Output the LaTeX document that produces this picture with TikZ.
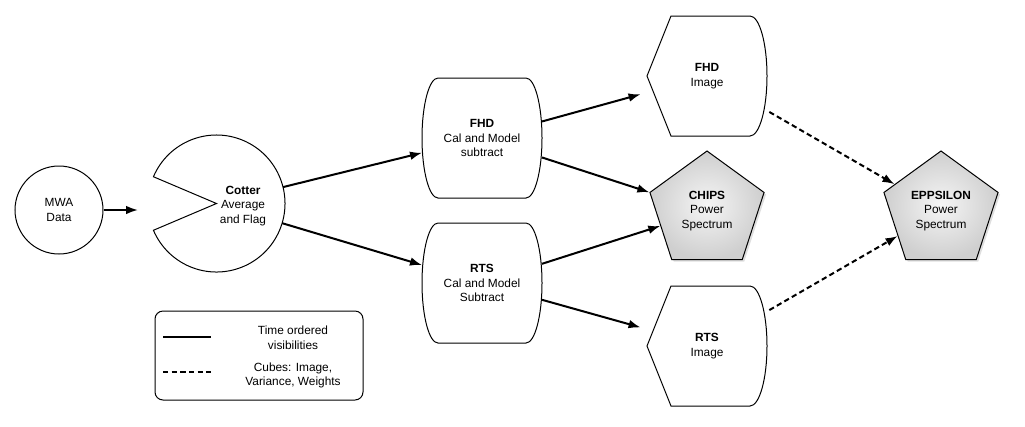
\documentclass[tikz,border=0pt]{standalone}
\usepackage{fontspec}
\setmainfont{Liberation Sans}
\usetikzlibrary{arrows.meta, shapes.geometric, shadows}

\begin{document}
\begin{tikzpicture}[
            x = 0.75pt, y = -0.75pt, % one unit = one pixel of the sketch
            > = {Latex[length=9pt, width=6.5pt]}, % arrow head style
            flow/.style = {->, line width = 1.5pt},
            cube/.style = {->, line width = 1.5pt, dash pattern = on 4pt off 2.5pt},
            every node/.style = {align = center, font = \fontsize{8.9}{10.9}\selectfont}
        ]

        \tikzstyle{outline}=[
            draw = black,
            line width = 0.75pt
        ]
        \tikzstyle{slot}=[
            rectangle,
            minimum width = 90pt,
            minimum height = 90pt,
            inner sep = 0pt,
            outer sep = 0pt
        ]
        \tikzstyle{spectrum}=[
            regular polygon,
            regular polygon sides = 5,
            minimum size = 90pt,
            inner sep = 0pt,
            draw = black,
            line width = 0.75pt,
            inner color = gray!8,
            outer color = gray!38,
            drop shadow = {opacity = 0.25, shadow xshift = 1.5pt, shadow yshift = -1.5pt}
        ]

        \useasboundingbox (0,0) rectangle (1025,426);

        \node[circle, outline, minimum size = 66pt] (mwa) at (59,210) {MWA\\Data};
        \node[circle, minimum size = 102.75pt, outer sep = 0pt] (cot) at (216.5,203.5) {};
        \node (cottext) at (243,206) {\textbf{Cotter}\\Average\\and Flag};

        \node[slot] (fhdcal) at (482,138) {\textbf{FHD}\\Cal and Model\\subtract};
        \node[slot] (rtscal) at (482,283) {\textbf{RTS}\\Cal and Model\\Subtract};
        \node[slot] (fhdimg) at (707,76) {\textbf{FHD}\\Image};
        \node[slot] (rtsimg) at (707,346) {\textbf{RTS}\\Image};
        \node[spectrum] (chips) at (707,211) {\textbf{CHIPS}\\Power\\Spectrum};
        \node[spectrum] (eppsilon) at (941,211) {\textbf{EPPSILON}\\Power\\Spectrum};

        % outlines
        \draw[outline] (cot.center) -- (cot.157) arc[start angle = 157, end angle = -157, radius = 51.375pt] -- cycle;

        \draw[outline] ([xshift=-33pt]fhdcal.north) -- ([xshift=33pt]fhdcal.north)
            arc[start angle = 90, end angle = -90, x radius = 12pt, y radius = 45pt]
            -- ([xshift=-33pt]fhdcal.south)
            arc[start angle = 270, end angle = 90, x radius = 12pt, y radius = 45pt] -- cycle;
        \draw[outline] ([xshift=-33pt]rtscal.north) -- ([xshift=33pt]rtscal.north)
            arc[start angle = 90, end angle = -90, x radius = 12pt, y radius = 45pt]
            -- ([xshift=-33pt]rtscal.south)
            arc[start angle = 270, end angle = 90, x radius = 12pt, y radius = 45pt] -- cycle;

        \draw[outline] ([xshift=-27pt]fhdimg.north) -- ([xshift=32.25pt]fhdimg.north)
            arc[start angle = 90, end angle = -90, x radius = 12.75pt, y radius = 45pt]
            -- ([xshift=-27pt]fhdimg.south) -- (fhdimg.west) -- cycle;
        \draw[outline] ([xshift=-27pt]rtsimg.north) -- ([xshift=32.25pt]rtsimg.north)
            arc[start angle = 90, end angle = -90, x radius = 12.75pt, y radius = 45pt]
            -- ([xshift=-27pt]rtsimg.south) -- (rtsimg.west) -- cycle;

        % visibilities
        \draw[flow, shorten > = 7.5pt] (mwa) -- (mwa -| cot.west);
        \draw[flow] (cot) -- (fhdcal);
        \draw[flow] (cot) -- (rtscal);
        \draw[flow, shorten > = 5pt] (fhdcal) -- (fhdimg);
        \draw[flow] (fhdcal) -- (chips);
        \draw[flow] (rtscal) -- (chips);
        \draw[flow, shorten > = 5pt] (rtscal) -- (rtsimg);

        % cubes
        \draw[cube, shorten < = 2pt] (fhdimg) -- (eppsilon);
        \draw[cube, shorten < = 2pt] (rtsimg) -- (eppsilon);

        % legend
        \node[outline, rounded corners = 6pt, minimum width = 156pt, minimum height = 66.75pt] (legend) at (259,355.5) {};
        \node (legtime) at (293,337.5) {Time ordered\\visibilities};
        \node (legcube) at (293,375.5) {Cubes: Image,\\Variance, Weights};
        \coordinate (solidA) at (163,337);
        \coordinate (solidB) at (211,337);
        \coordinate (dashA) at (163,372);
        \coordinate (dashB) at (211,372);
        \draw[line width = 1.5pt] (solidA) -- (solidB);
        \draw[line width = 1.5pt, dash pattern = on 4pt off 2.5pt] (dashA) -- (dashB);

    \end{tikzpicture}
\end{document}
